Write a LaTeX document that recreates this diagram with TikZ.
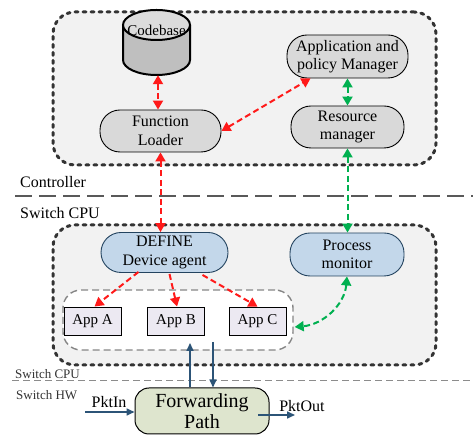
\documentclass[tikz,border=0pt]{standalone}
\usepackage{fontspec}
\setmainfont{Liberation Serif}
\usetikzlibrary{arrows.meta,calc}
\definecolor{myred}{HTML}{FF1A1A}
\definecolor{mygreen}{HTML}{00B050}
\definecolor{myblue}{HTML}{2C5477}
\definecolor{grayfill}{HTML}{D9D9D9}
\definecolor{bluefill}{HTML}{C3D7EA}
\definecolor{appfill}{HTML}{ECE9F2}
\definecolor{fwdfill}{HTML}{DEE5CE}
\definecolor{boxfill}{HTML}{F2F2F2}
\definecolor{boxdraw}{HTML}{333333}
\definecolor{cylbody}{HTML}{BFBFBF}
\definecolor{cyltop}{HTML}{DCDCDC}
\begin{document}
\begin{tikzpicture}[x=1pt,y=1pt,
  every node/.style={inner sep=0pt},
  nodefont/.style={font=\fontsize{16}{18.5}\selectfont},
  appfont/.style={font=\fontsize{15}{18}\selectfont},
  pill/.style={draw=black, line width=0.9pt, rounded corners=20pt, align=center, nodefont},
  graypill/.style={pill, fill=grayfill},
  bluepill/.style={pill, fill=bluefill, draw=myblue!80!black},
  appbox/.style={draw=black, line width=0.9pt, fill=appfill, minimum width=57pt, minimum height=28pt, appfont},
  container/.style={draw=boxdraw, fill=boxfill, line width=3pt, line cap=round, dash pattern=on 3pt off 5pt, rounded corners=22pt},
  innerbox/.style={draw=gray!95, fill=white, line width=1.4pt, dash pattern=on 7pt off 4pt, rounded corners=18pt},
  reddash/.style={draw=myred, line width=2pt, dash pattern=on 6pt off 3.5pt},
  greendash/.style={draw=mygreen, line width=2pt, dash pattern=on 6pt off 3.5pt},
  tip/.style={-{Triangle[length=9pt,width=10pt]}},
  dtip/.style={{Triangle[length=9pt,width=10pt]}-{Triangle[length=9pt,width=10pt]}},
  bluearrow/.style={draw=myblue, line width=1.6pt, -{Triangle[length=8pt,width=7pt]}},
  lbl/.style={anchor=west, font=\fontsize{16}{18}\selectfont},
  smalllbl/.style={anchor=west, font=\fontsize{13}{15}\selectfont, text=black!80}
]
\useasboundingbox (0,0) rectangle (473,435);

% containers
\node[container, minimum width=383pt, minimum height=153pt] (ctrl) at (244.5,346.5) {};
\node[container, minimum width=383pt, minimum height=140pt] (cpu) at (244.5,140) {};

% separator lines
\coordinate (sepAl) at (15,239);
\coordinate (sepAr) at (473,239);
\draw[draw=black!65, line width=2.4pt, dash pattern=on 17pt off 7pt] (sepAl) -- (sepAr);
\coordinate (sepBl) at (12,55);
\coordinate (sepBr) at (473,55);
\draw[draw=gray!90, line width=0.8pt, dash pattern=on 7pt off 4pt] (sepBl) -- (sepBr);

% labels
\node[lbl] (lctrl) at (20,253) {Controller};
\node[lbl] (lcpu) at (20,222) {Switch CPU};
\node[smalllbl] (lcpu2) at (15,61) {Switch CPU};
\node[smalllbl] (lhw) at (16,40) {Switch HW};

% codebase cylinder
\fill[cylbody] (123,410) -- (123,375) arc[start angle=180,end angle=360,x radius=33.5,y radius=15] -- (190,410) -- cycle;
\draw[line width=2pt] (123,410) -- (123,375) arc[start angle=180,end angle=360,x radius=33.5,y radius=15] -- (190,410);
\draw[line width=2pt, fill=cyltop] (156.5,410) ellipse[x radius=33.5, y radius=15];
\node[minimum width=67pt, minimum height=65pt] (cb) at (156.5,392.5) {};
\node[appfont] (cbtext) at (156.5,405) {Codebase};

% controller nodes
\node[graypill, minimum width=121pt, minimum height=43pt] (am) at (347.5,378.5) {Application and\\policy Manager};
\node[graypill, minimum width=121pt, minimum height=42pt] (fl) at (160.5,304) {Function\\Loader};
\node[graypill, minimum width=113pt, minimum height=42pt] (rm) at (347.5,308) {Resource\\manager};

% switch cpu nodes
\node[bluepill, minimum width=127pt, minimum height=40pt] (def) at (164.5,182.5) {DEFINE\\Device agent};
\node[bluepill, minimum width=114pt, minimum height=43pt] (pm) at (347,180.5) {Process\\monitor};
\node[innerbox, minimum width=230pt, minimum height=60pt] (inner) at (178,115) {};
\node[appbox] (appa) at (92.5,114) {App A};
\node[appbox] (appb) at (176,114) {App B};
\node[appbox] (appc) at (257.5,114) {App C};

% forwarding path
\node[draw=black, line width=1pt, fill=fwdfill, rounded corners=14pt, minimum width=134pt, minimum height=46pt, align=center, font=\fontsize{20}{21}\selectfont] (fwd) at (202,24) {Forwarding\\Path};

% controller connectors
\draw[reddash, dtip] (cb.south -| 158,0) -- (fl.north -| 158,0);
\draw[reddash, dtip] (fl.east) -- ($(am.south)+(-37,0)$);
\draw[greendash, dtip] (am.south) -- (rm.north);
\draw[reddash, dtip] (fl.south) -- (fl.south |- def.north);
\draw[greendash, dtip] (rm.south) -- (rm.south |- pm.north);

% agent to apps
\draw[reddash, tip] ($(def.south)+(-26,1)$) -- ($(appa.north)+(2,0)$);
\draw[reddash, tip] ($(def.south)+(5,-1)$) -- ($(appb.north)+(1,0)$);
\draw[reddash, tip] ($(def.south)+(38,-2)$) -- ($(appc.north)+(0,0)$);

% monitor to apps
\draw[greendash, dtip] (pm.south) to[out=-95, in=5] ($(inner.east)+(1,-7)$);

% data path
\coordinate (upend) at (190,92);
\coordinate (downstart) at (213,93);
\draw[bluearrow] (fwd.north -| upend) -- (upend);
\draw[bluearrow] (downstart) -- (fwd.north -| downstart);
\coordinate (pin) at (85,23);
\draw[bluearrow] (pin) -- (fwd.west |- pin);
\coordinate (poS) at (258,20);
\coordinate (poE) at (295,20);
\draw[bluearrow] (poS) -- (poE);
\node[font=\fontsize{16}{18}\selectfont] (pktin) at (109,33) {PktIn};
\node[font=\fontsize{16}{18}\selectfont] (pktout) at (302,29) {PktOut};
\end{tikzpicture}
\end{document}
